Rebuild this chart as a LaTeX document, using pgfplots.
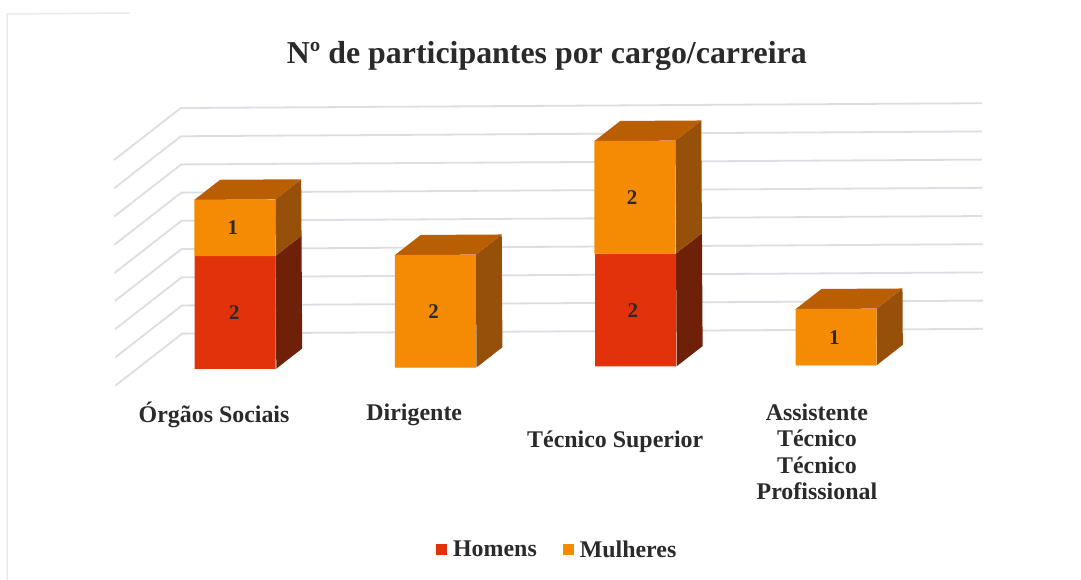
\documentclass[border=0pt]{standalone}
\usepackage{pgfplots}
\usepackage{fontspec}
\setmainfont{Liberation Serif}
\pgfplotsset{compat=1.18}
\definecolor{redfront}{HTML}{E1320A}
\definecolor{orfront}{HTML}{F58A03}
\definecolor{ortop}{HTML}{BA5E04}
\definecolor{orside}{HTML}{96500A}
\definecolor{redside}{HTML}{6E2108}
\definecolor{gridc}{HTML}{DCDEE3}
\definecolor{txt}{HTML}{2A2A2A}
\pgfplotsset{
  g/.style={forget plot,no markers,sharp plot,draw=gridc,line width=1.8bp},
  face/.style={forget plot,no markers,sharp plot,draw=none,fill=#1},
}
\tikzset{
  lab/.style={font=\bfseries\fontsize{21}{24}\selectfont,text=txt,align=center},
  cat/.style={font=\bfseries\fontsize{24}{26.4}\selectfont,text=txt,align=center},
}
\begin{document}
\begin{tikzpicture}
\useasboundingbox (0,0) rectangle (1081bp,580bp);
\fill[white] (0,0) rectangle (1081bp,580bp);
\draw[black!8,line width=1.5bp] (7bp,0) -- (7bp,566bp) -- (130bp,567bp);
\begin{axis}[
  anchor=origin, at={(235.8bp,211.1bp)},
  x={(200.2bp,1.2bp)}, y={(-0.34bp,56.4bp)},
  xmin=-1.2, xmax=4, ymin=-4, ymax=7,
  hide axis, clip=false,
  legend columns=2,
  legend style={draw=none,fill=none,at={(axis cs:1.6,-3.24)},anchor=center,
    font=\bfseries\fontsize{24}{26}\selectfont,text=txt,
    /tikz/every odd column/.append style={column sep=4bp},
    /tikz/every even column/.append style={column sep=24bp},
    inner sep=0pt},
  legend image code/.code={\fill[#1] (0bp,-5.5bp) rectangle (11bp,5.5bp);},
]
% back wall and floor grid, value v = 0, 0.5, ..., 4
\addplot[g] coordinates {(-0.602,-0.284)(-0.267,0.631)(3.734,0.631)};
\addplot[g] coordinates {(-0.602,0.216)(-0.267,1.131)(3.734,1.131)};
\addplot[g] coordinates {(-0.602,0.716)(-0.267,1.631)(3.734,1.631)};
\addplot[g] coordinates {(-0.602,1.216)(-0.267,2.131)(3.734,2.131)};
\addplot[g] coordinates {(-0.602,1.716)(-0.267,2.631)(3.734,2.631)};
\addplot[g] coordinates {(-0.602,2.216)(-0.267,3.131)(3.734,3.131)};
\addplot[g] coordinates {(-0.602,2.716)(-0.267,3.631)(3.734,3.631)};
\addplot[g] coordinates {(-0.602,3.216)(-0.267,4.131)(3.734,4.131)};
\addplot[g] coordinates {(-0.602,3.716)(-0.267,4.631)(3.734,4.631)};
% side faces
\addplot[face=redside] coordinates {(0.2023,0)(0.3323,0.355)(0.3323,2.355)(0.2023,2)} -- cycle;
\addplot[face=orside] coordinates {(0.2023,2)(0.3323,2.355)(0.3323,3.355)(0.2023,3)} -- cycle;
\addplot[face=orside] coordinates {(1.2023,0)(1.3323,0.355)(1.3323,2.355)(1.2023,2)} -- cycle;
\addplot[face=redside] coordinates {(2.2023,0)(2.3323,0.355)(2.3323,2.355)(2.2023,2)} -- cycle;
\addplot[face=orside] coordinates {(2.2023,2)(2.3323,2.355)(2.3323,4.355)(2.2023,4)} -- cycle;
\addplot[face=orside] coordinates {(3.2023,0)(3.3323,0.355)(3.3323,1.355)(3.2023,1)} -- cycle;
% top faces
\addplot[face=ortop] coordinates {(-0.2023,3)(0.2023,3)(0.3323,3.355)(-0.0723,3.355)} -- cycle;
\addplot[face=ortop] coordinates {(0.7977,2)(1.2023,2)(1.3323,2.355)(0.9277,2.355)} -- cycle;
\addplot[face=ortop] coordinates {(1.7977,4)(2.2023,4)(2.3323,4.355)(1.9277,4.355)} -- cycle;
\addplot[face=ortop] coordinates {(2.7977,1)(3.2023,1)(3.3323,1.355)(2.9277,1.355)} -- cycle;
% front faces
\addplot[ybar,bar width=81bp,bar shift=0pt,stack plots=y,draw=none,fill=redfront] coordinates {(0,2)(1,0)(2,2)(3,0)};
\addlegendentry{Homens}
\addplot[ybar,bar width=81bp,bar shift=0pt,stack plots=y,draw=none,fill=orfront] coordinates {(0,1)(1,2)(2,2)(3,1)};
\addlegendentry{Mulheres}
% data labels
\node[lab] at (axis cs:-0.005,1) {2};
\node[lab] at (axis cs:-0.01,2.5) {1};
\node[lab] at (axis cs:0.99,1) {2};
\node[lab] at (axis cs:1.985,1) {2};
\node[lab] at (axis cs:1.985,3) {2};
\node[lab] at (axis cs:2.99,0.5) {1};
% category labels
\node[cat] at (axis cs:-0.11,-0.82) {Órgãos Sociais};
\node[cat] at (axis cs:0.89,-0.83) {Dirigente};
\node[cat] at (axis cs:1.893,-1.34) {Técnico Superior};
\node[cat] at (axis cs:2.9,-1.53) {Assistente\\Técnico\\Técnico\\Profissional};
% title
\node[font=\bfseries\fontsize{32}{36}\selectfont,text=txt] at (axis cs:1.563,5.51) {Nº de participantes por cargo/carreira};
\end{axis}
\end{tikzpicture}
\end{document}
